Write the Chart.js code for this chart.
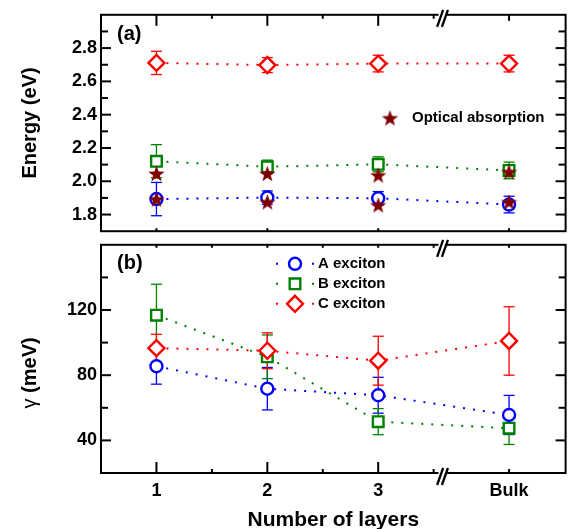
<!DOCTYPE html>
<html><head><meta charset="utf-8">
<script src="https://cdn.jsdelivr.net/npm/chart.js@4/dist/chart.umd.min.js"></script>
<style>
html,body{margin:0;padding:0;background:#fff;}
#wrap{position:relative;width:576px;height:529px;overflow:hidden;background:#fff;}
canvas{position:absolute;left:0;}
</style></head><body>
<div id="wrap">
<canvas id="ca" width="576" height="246" style="top:0px"></canvas>
<canvas id="cb" width="576" height="299" style="top:230px"></canvas>
</div>
<script>
// ---------- data ----------
const categories = ['1', '2', '3', 'Bulk'];
const layerAxisPos = [1, 2, 3, 4.18];      // position on the broken x axis
const layerMinorTicks = [1.5, 2.5, 3.5];
const axisBreakAt = 3.58;

// Panel (a): exciton energies (eV)
const energyA = [1.893, 1.902, 1.898, 1.860];
const energyAErr = [0.10, 0.04, 0.04, 0.05];
const energyB = [2.120, 2.087, 2.102, 2.065];
const energyBErr = [0.10, 0.04, 0.045, 0.05];
const energyC = [2.711, 2.698, 2.707, 2.707];
const energyCErr = [0.07, 0.045, 0.05, 0.05];
const absorptionHigh = [2.047, 2.047, 2.037, 2.057];
const absorptionLow = [1.893, 1.876, 1.858, 1.876];

// Panel (b): broadening gamma (meV)
const gammaA = [85.5, 71.7, 67.7, 55.6];
const gammaAErr = [11, 13, 11, 12];
const gammaB = [116.8, 91.3, 51.5, 47.5];
const gammaBErr = [19, 13.4, 8, 10];
const gammaC = [96.6, 95.0, 88.9, 101.0];
const gammaCErr = [8.5, 11, 15, 21];

const energyTicks = [1.8, 2.0, 2.2, 2.4, 2.6, 2.8];
const energyMinorTicks = [1.9, 2.1, 2.3, 2.5, 2.7, 2.9];
const gammaTicks = [40, 80, 120];
const gammaMinorTicks = [60, 100, 140];

// ---------- style ----------
const FF = "'Liberation Sans', Arial, sans-serif";
const BLUE = '#0000ff', GREEN = '#008000', RED = '#ff0000', MAROON = '#800000';

function makeStar(size, color) {
  const c = document.createElement('canvas');
  c.width = size; c.height = size;
  const g = c.getContext('2d');
  const cx = size / 2, cy = size / 2 + 0.8, R = size / 2, r = R * 0.42;
  g.beginPath();
  for (let i = 0; i < 10; i++) {
    const a = -Math.PI / 2 + i * Math.PI / 5, rad = i % 2 ? r : R;
    g.lineTo(cx + rad * Math.cos(a), cy + rad * Math.sin(a));
  }
  g.closePath(); g.fillStyle = color; g.fill();
  return c;
}
const starImg = makeStar(17, MAROON);

function series(label, vals, errs, color, style, radius, order) {
  return {
    label, errors: errs, order,
    data: layerAxisPos.map((x, i) => ({x, y: vals[i]})),
    borderColor: color, borderWidth: 2, borderDash: [2, 8], borderCapStyle: 'butt',
    pointStyle: style, pointRadius: radius, pointBorderWidth: 2.4,
    pointBorderColor: color, pointBackgroundColor: '#fff', backgroundColor: '#fff',
    tension: 0, fill: false, showLine: true
  };
}

function line(ctx, x1, y1, x2, y2) { ctx.beginPath(); ctx.moveTo(x1, y1); ctx.lineTo(x2, y2); ctx.stroke(); }

function drawErrorBars(chart) {
  const ctx = chart.ctx, ys = chart.scales.y;
  chart.data.datasets.forEach((ds, i) => {
    if (!ds.errors) return;
    const meta = chart.getDatasetMeta(i);
    ctx.save(); ctx.strokeStyle = ds.borderColor; ctx.lineWidth = 1.3;
    meta.data.forEach((pt, j) => {
      const v = ds.data[j].y, e = ds.errors[j];
      const y1 = ys.getPixelForValue(v + e), y2 = ys.getPixelForValue(v - e), x = pt.x;
      line(ctx, x, y1, x, y2);
      line(ctx, x - 5.5, y1, x + 5.5, y1);
      line(ctx, x - 5.5, y2, x + 5.5, y2);
    });
    ctx.restore();
  });
}

function drawYTicks(ctx, chart, values, len) {
  const a = chart.chartArea, ys = chart.scales.y;
  values.forEach(v => {
    const y = ys.getPixelForValue(v);
    line(ctx, a.left, y, a.left + len, y);
    line(ctx, a.right, y, a.right - len, y);
  });
}
function drawXTicks(ctx, chart, values, yEdge, dir, len) {
  const xs = chart.scales.x;
  values.forEach(v => { const x = xs.getPixelForValue(v); line(ctx, x, yEdge, x, yEdge + dir * len); });
}
function drawBreak(ctx, x, y) {
  ctx.save();
  ctx.fillStyle = '#fff'; ctx.fillRect(x - 4, y - 2, 8, 4);
  ctx.strokeStyle = '#000'; ctx.lineWidth = 2.3;
  [-2.4, 2.4].forEach(dx => line(ctx, x + dx - 3, y + 12, x + dx + 3, y - 5));
  ctx.restore();
}
function drawMarker(ctx, style, color, x, y, r) {
  ctx.save(); ctx.strokeStyle = color; ctx.fillStyle = '#fff'; ctx.lineWidth = 2.4;
  ctx.beginPath();
  if (style === 'circle') ctx.arc(x, y, r, 0, Math.PI * 2);
  else if (style === 'rect') { const s = r * Math.SQRT1_2; ctx.rect(x - s, y - s, 2 * s, 2 * s); }
  else { ctx.moveTo(x, y - r); ctx.lineTo(x + r, y); ctx.lineTo(x, y + r); ctx.lineTo(x - r, y); ctx.closePath(); }
  ctx.fill(); ctx.stroke(); ctx.restore();
}
function vText(ctx, parts, cx, cy) {
  ctx.save(); ctx.translate(cx, cy); ctx.rotate(-Math.PI / 2);
  ctx.textBaseline = 'middle'; ctx.fillStyle = '#000';
  let total = 0; parts.forEach(p => { ctx.font = p.font; total += ctx.measureText(p.t).width; });
  let x = -total / 2;
  parts.forEach(p => { ctx.font = p.font; ctx.textAlign = 'left'; ctx.fillText(p.t, x, 0); x += ctx.measureText(p.t).width; });
  ctx.restore();
}

const decoA = {
  id: 'decoA',
  beforeDatasetsDraw(chart) { drawErrorBars(chart); },
  afterDraw(chart) {
    const ctx = chart.ctx, a = chart.chartArea, xs = chart.scales.x;
    ctx.save(); ctx.strokeStyle = '#000'; ctx.lineWidth = 2;
    ctx.strokeRect(a.left, a.top, a.right - a.left, a.bottom - a.top);
    drawYTicks(ctx, chart, energyTicks, 10);
    drawYTicks(ctx, chart, energyMinorTicks, 7);
    drawXTicks(ctx, chart, layerAxisPos.slice(0, 3), a.top, 1, 11);
    drawXTicks(ctx, chart, layerAxisPos.slice(3), a.top, 1, 6);
    drawXTicks(ctx, chart, layerMinorTicks, a.top, 1, 4);
    drawXTicks(ctx, chart, layerAxisPos, a.bottom, -1, 3);
    drawBreak(ctx, xs.getPixelForValue(axisBreakAt), a.top);
    ctx.fillStyle = '#000'; ctx.textBaseline = 'middle'; ctx.textAlign = 'left';
    ctx.font = 'bold 20px ' + FF; ctx.fillText('(a)', a.left + 16, a.top + 20);
    ctx.drawImage(starImg, 390 - 8.5, 118 - 8.5);
    ctx.font = 'bold 15px ' + FF; ctx.fillText('Optical absorption', 412, 118);
    vText(ctx, [{t: 'Energy (eV)', font: 'bold 20px ' + FF}], 30, (a.top + a.bottom) / 2);
    ctx.restore();
  }
};

const decoB = {
  id: 'decoB',
  beforeDatasetsDraw(chart) { drawErrorBars(chart); },
  afterDraw(chart) {
    const ctx = chart.ctx, a = chart.chartArea, xs = chart.scales.x;
    ctx.save(); ctx.strokeStyle = '#000'; ctx.lineWidth = 2;
    ctx.strokeRect(a.left, a.top, a.right - a.left, a.bottom - a.top);
    drawYTicks(ctx, chart, gammaTicks, 10);
    drawYTicks(ctx, chart, gammaMinorTicks, 7);
    drawXTicks(ctx, chart, layerAxisPos, a.top, 1, 3);
    drawXTicks(ctx, chart, layerMinorTicks, a.top, 1, 3);
    drawXTicks(ctx, chart, layerAxisPos.slice(0, 3), a.bottom, -1, 11);
    drawXTicks(ctx, chart, layerAxisPos.slice(3), a.bottom, -1, 4);
    drawXTicks(ctx, chart, layerMinorTicks, a.bottom, -1, 4);
    const bx = xs.getPixelForValue(axisBreakAt);
    drawBreak(ctx, bx, a.top);
    drawBreak(ctx, bx, a.bottom);
    ctx.fillStyle = '#000'; ctx.textBaseline = 'middle'; ctx.textAlign = 'left';
    ctx.font = 'bold 20px ' + FF; ctx.fillText('(b)', a.left + 16, a.top + 19);
    // legend
    const legend = [
      {t: 'A exciton', c: BLUE, s: 'circle', r: 6},
      {t: 'B exciton', c: GREEN, s: 'rect', r: 7.5},
      {t: 'C exciton', c: RED, s: 'diamond', r: 8}
    ];
    legend.forEach((it, i) => {
      const y = a.top + 19 + i * 20;
      ctx.save(); ctx.strokeStyle = it.c; ctx.lineWidth = 2;
      line(ctx, 276, y, 278, y); line(ctx, 312, y, 314, y);
      ctx.restore();
      drawMarker(ctx, it.s, it.c, 295, y, it.r);
      ctx.fillStyle = '#000'; ctx.font = 'bold 15px ' + FF; ctx.fillText(it.t, 318, y);
    });
    vText(ctx, [{t: 'γ', font: '20px ' + FF}, {t: ' (meV)', font: 'bold 20px ' + FF}], 30, (a.top + a.bottom) / 2 + 14);
    ctx.textAlign = 'center';
    ctx.font = 'bold 21px ' + FF; ctx.fillText('Number of layers', (a.left + a.right) / 2, a.bottom + 47);
    ctx.restore();
  }
};

const xBase = {type: 'linear', min: 0.5, max: 4.69};

new Chart(document.getElementById('ca'), {
  type: 'line',
  data: { datasets: [
    { label: 'Optical absorption', order: 0, showLine: false,
      data: layerAxisPos.map((x, i) => ({x, y: absorptionHigh[i]}))
        .concat(layerAxisPos.map((x, i) => ({x, y: absorptionLow[i]}))),
      pointStyle: starImg, pointRadius: 8, borderColor: MAROON, backgroundColor: MAROON },
    series('A exciton', energyA, energyAErr, BLUE, 'circle', 6, 1),
    series('B exciton', energyB, energyBErr, GREEN, 'rect', 7.5, 2),
    series('C exciton', energyC, energyCErr, RED, 'rectRot', 8, 3)
  ]},
  options: {
    responsive: false, animation: false, events: [],
    layout: {padding: {top: 10, right: 6, bottom: 3, left: 0}},
    plugins: {legend: {display: false}, tooltip: {enabled: false}},
    scales: {
      x: Object.assign({display: false}, xBase),
      y: {
        type: 'linear', min: 1.7, max: 3.0,
        afterFit(s) { s.width = 101; },
        afterBuildTicks(s) { s.ticks = energyTicks.map(v => ({value: v})); },
        ticks: {callback: v => Number(v).toFixed(1), color: '#000', padding: 4, font: {family: FF, size: 18, weight: 'bold'}},
        grid: {display: false, drawTicks: false}, border: {display: false}
      }
    }
  },
  plugins: [decoA]
});

new Chart(document.getElementById('cb'), {
  type: 'line',
  data: { datasets: [
    series('A exciton', gammaA, gammaAErr, BLUE, 'circle', 6, 1),
    series('B exciton', gammaB, gammaBErr, GREEN, 'rect', 7.5, 3),
    series('C exciton', gammaC, gammaCErr, RED, 'rectRot', 8, 2)
  ]},
  options: {
    responsive: false, animation: false, events: [],
    layout: {padding: {top: 13, right: 6, bottom: 0, left: 0}},
    plugins: {legend: {display: false}, tooltip: {enabled: false}},
    scales: {
      x: Object.assign({
        afterFit(s) { s.height = 56; },
        afterBuildTicks(s) { s.ticks = layerAxisPos.map(v => ({value: v})); },
        ticks: {autoSkip: false, maxRotation: 0, color: '#000', padding: 7,
          callback: (v, i) => categories[i], font: {family: FF, size: 18, weight: 'bold'}},
        grid: {display: false, drawTicks: false}, border: {display: false}
      }, xBase),
      y: {
        type: 'linear', min: 20, max: 160,
        afterFit(s) { s.width = 101; },
        afterBuildTicks(s) { s.ticks = gammaTicks.map(v => ({value: v})); },
        ticks: {color: '#000', padding: 4, font: {family: FF, size: 18, weight: 'bold'}},
        grid: {display: false, drawTicks: false}, border: {display: false}
      }
    }
  },
  plugins: [decoB]
});
</script>
</body></html>
